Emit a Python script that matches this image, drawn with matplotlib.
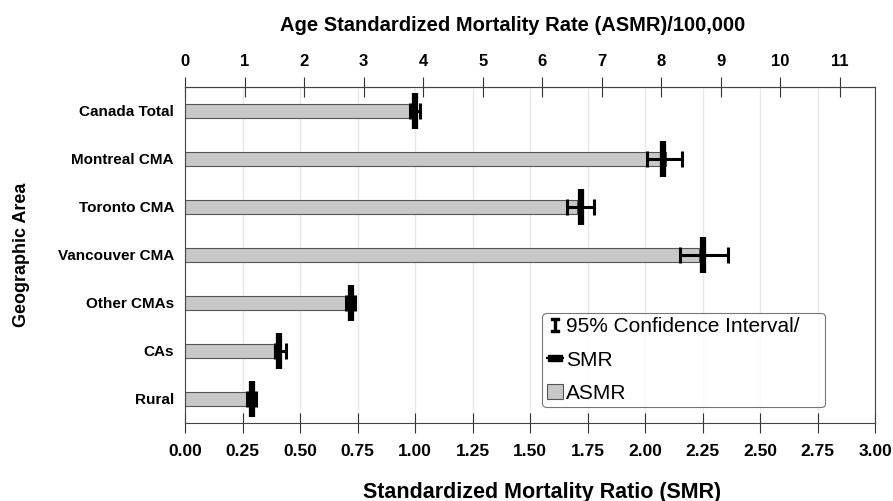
import matplotlib
matplotlib.use("Agg")
import matplotlib.pyplot as plt
import matplotlib.patches as mpatches
from matplotlib.lines import Line2D
import numpy as np

plt.rcParams['font.family'] = ['Liberation Sans', 'DejaVu Sans']

areas = ["Canada Total", "Montreal CMA", "Toronto CMA", "Vancouver CMA",
         "Other CMAs", "CAs", "Rural"]
asmr = [3.78, 8.08, 6.58, 8.64, 2.73, 1.49, 1.04]
smr = [1.00, 2.08, 1.72, 2.25, 0.72, 0.41, 0.29]
ci_low = [0.98, 2.01, 1.66, 2.15, 0.70, 0.39, 0.27]
ci_high = [1.02, 2.16, 1.78, 2.36, 0.74, 0.44, 0.31]

smr_ticks = np.arange(0, 3.01, 0.25)
asmr_ticks = list(range(0, 12))
# top (ASMR) axis spans 0..11.59 while bottom (SMR) spans 0..3
k = 11.59 / 3.0

fig = plt.figure(figsize=(8.93, 5.01), dpi=100)
ax = fig.add_axes([0.2072, 0.1557, 0.7727, 0.6707])

y = np.arange(len(areas))
# ASMR bars, plotted through the SMR scale
ax.barh(y, np.array(asmr) / k, height=0.31, color='#c8c8c8',
        edgecolor='#555555', linewidth=0.8, zorder=2)

# SMR with 95% CI
smr_a = np.array(smr)
xerr = [smr_a - np.array(ci_low), np.array(ci_high) - smr_a]
ax.errorbar(smr, y, xerr=xerr, fmt='none', ecolor='black', elinewidth=2.2,
            capsize=6, capthick=2.2, zorder=3)
ax.plot(smr, y, linestyle='none', marker='|', markersize=26,
        markeredgewidth=4.5, color='black', zorder=4)

ax.set_ylim(len(areas) - 0.5, -0.5)
ax.set_yticks(y)
ax.set_yticklabels(areas, fontsize=11, fontweight='bold')
ax.tick_params(axis='y', length=0, pad=8)

ax.set_xlim(0, 3)
ax.set_xticks(smr_ticks)
ax.set_xticklabels([f"{t:.2f}" for t in smr_ticks], fontsize=12.5, fontweight='bold')
ax.tick_params(axis='x', direction='inout', length=15, width=0.8, color='#333333', pad=7.5)
ax.set_xlabel("Standardized Mortality Ratio (SMR)", fontsize=15.5, fontweight='bold', labelpad=16.5)
ax.xaxis.label.set_x(0.517)
ax.set_ylabel("Geographic Area", fontsize=13, fontweight='bold', labelpad=20)

ax.grid(axis='x', color='#e8e8e8', linewidth=1)
ax.set_axisbelow(True)
for s in ax.spines.values():
    s.set_color('#444444')
    s.set_linewidth(0.8)

top = ax.secondary_xaxis('top', functions=(lambda v: v * k, lambda v: v / k))
top.set_xticks(asmr_ticks)
top.set_xticklabels([str(t) for t in asmr_ticks], fontsize=12, fontweight='bold')
top.tick_params(direction='inout', length=15, width=0.8, color='#333333', pad=5.5)
top.set_xlabel("Age Standardized Mortality Rate (ASMR)/100,000", fontsize=14.5,
               fontweight='bold', labelpad=16.5)
top.xaxis.label.set_x(0.475)
top.spines['top'].set_color('#444444')
top.spines['top'].set_linewidth(0.8)

# legend
smr_marker = [(-1.6, -0.8), (1.6, -0.8), (1.6, 0.8), (-1.6, 0.8), (-1.6, -0.8)]
handles = [
    Line2D([], [], linestyle='none', marker=r'$\mathtt{I}$', markersize=10,
           color='black', label='95% Confidence Interval/'),
    Line2D([], [], color='black', linewidth=1.5, marker=smr_marker,
           markersize=10, label='SMR'),
    mpatches.Patch(facecolor='#c8c8c8', edgecolor='#555555', linewidth=0.8, label='ASMR'),
]
leg = ax.legend(handles=handles, loc='lower left', bbox_to_anchor=(0.518, 0.048, 0.41, 0.27),
                mode='expand', fontsize=15, frameon=True, fancybox=True,
                handlelength=0.8, handletextpad=0.15, labelspacing=0.68,
                borderpad=0.2, borderaxespad=0)
leg.get_frame().set_edgecolor('#555555')
leg.get_frame().set_linewidth(0.8)

fig.savefig("out.png", dpi=100)
